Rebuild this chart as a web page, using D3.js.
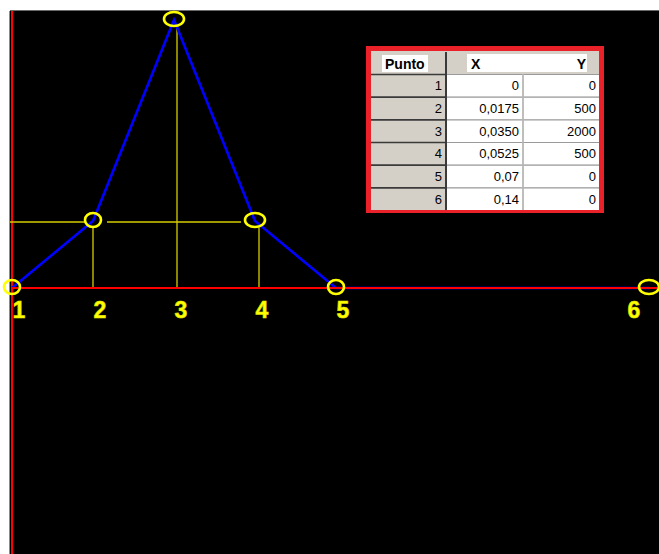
<!DOCTYPE html>
<html>
<head>
<meta charset="utf-8">
<script src="https://cdn.jsdelivr.net/npm/d3@7"></script>
<style>
  html, body { margin: 0; padding: 0; background: #ffffff; }
  svg { display: block; }
</style>
</head>
<body>
<svg id="chart" width="659" height="554"></svg>
<script>
// Puntos de la curva (Punto, X, Y) tal como se escriben en la tabla
const puntos = ["1", "2", "3", "4", "5", "6"];
const xTexto = ["0", "0,0175", "0,0350", "0,0525", "0,07", "0,14"];
const yTexto = ["0", "500", "2000", "500", "0", "0"];
const xDominio = [0, 0.07, 0.14];
const yDominio = [0, 2000];

const xValores = xTexto.map(s => +s.replace(",", "."));
const yValores = yTexto.map(s => +s);
const datos = puntos.map((p, i) => ({ p, x: xValores[i], y: yValores[i], xt: xTexto[i], yt: yTexto[i] }));

const W = 659, H = 554;
const svg = d3.select("#chart");

// Fondo negro del área de dibujo
svg.append("rect").attr("x", 10).attr("y", 11).attr("width", W - 10).attr("height", H - 11).attr("fill", "#000");
svg.append("line").attr("x1", 9.5).attr("x2", 9.5).attr("y1", 11).attr("y2", H).attr("stroke", "#8a8a8a").attr("stroke-width", 1);
svg.append("line").attr("x1", 10).attr("x2", W).attr("y1", 10.5).attr("y2", 10.5).attr("stroke", "#6a6a6a").attr("stroke-width", 1);

const x = d3.scaleLinear().domain(xDominio).range([12, 336, 649]);
const y = d3.scaleLinear().domain(yDominio).range([288, 20]);

// Eje vertical rojo
svg.append("line").attr("x1", 12).attr("x2", 12).attr("y1", 11).attr("y2", H)
  .attr("stroke", "#ff0000").attr("stroke-width", 2);

// Líneas guía amarillas
const guia = "#d6cc00";
const g2 = datos[1], g3 = datos[2], g4 = datos[3];
const guias = [
  [10, y(g2.y) + 1, x(g2.x) - 8, y(g2.y) + 1],
  [x(g2.x) + 14, y(g2.y) + 1, x(g4.x) - 14, y(g4.y) + 1],
  [x(g2.x), y(g2.y) + 7, x(g2.x), y(0)],
  [x(g3.x) + 3, y(g3.y) + 8, x(g3.x) + 3, y(0)],
  [x(g4.x) + 4, y(g4.y) + 7, x(g4.x) + 4, y(0)]
];
svg.append("g").selectAll("line").data(guias).join("line")
  .attr("x1", d => d[0]).attr("y1", d => d[1]).attr("x2", d => d[2]).attr("y2", d => d[3])
  .attr("stroke", guia).attr("stroke-width", 1.3);

// Curva azul
const linea = d3.line().x(d => x(d.x)).y(d => y(d.y));
svg.append("path").datum(datos).attr("d", linea)
  .attr("fill", "none").attr("stroke", "#0000ff").attr("stroke-width", 2.6).attr("stroke-linejoin", "miter");

// Eje horizontal rojo
svg.append("line").attr("x1", 11).attr("x2", W).attr("y1", y(0)).attr("y2", y(0))
  .attr("stroke", "#ff0000").attr("stroke-width", 2.2);

// Marcas de los puntos
svg.append("g").selectAll("ellipse").data(datos).join("ellipse")
  .attr("cx", d => x(d.x)).attr("cy", d => y(d.y) - 1)
  .attr("rx", (d, i) => (i === 2 || i === 3 || i === 5) ? 10 : 8)
  .attr("ry", 7)
  .attr("fill", "none").attr("stroke", "#ffff00").attr("stroke-width", 2.6);

// Números de los puntos
svg.append("g").selectAll("text").data(datos).join("text")
  .attr("x", d => Math.min(x(d.x) + 7, W - 25))
  .attr("y", 318)
  .attr("text-anchor", "middle")
  .attr("font-family", "Liberation Sans, Arial, sans-serif")
  .attr("font-weight", "bold").attr("font-size", 23)
  .attr("fill", "#ffff00")
  .attr("stroke", "#e0e000").attr("stroke-width", 0.6)
  .text(d => d.p);

// Tabla de puntos
const tabla = svg.append("g");
const tx = 366, ty = 46, tw = 238, th = 167;
tabla.append("rect").attr("x", tx).attr("y", ty).attr("width", tw).attr("height", th).attr("fill", "#ea2128");
tabla.append("rect").attr("x", 371).attr("y", 51).attr("width", 228).attr("height", 159).attr("fill", "#d4d0c8");

const gris = "#d4d0c8";
const fuente = "Liberation Sans, Arial, sans-serif";
// Encabezado
tabla.append("rect").attr("x", 382).attr("y", 55).attr("width", 46).attr("height", 17).attr("fill", "#fff");
tabla.append("rect").attr("x", 467).attr("y", 54).attr("width", 120).attr("height", 18).attr("fill", "#fff");
tabla.append("text").attr("x", 385).attr("y", 69).attr("font-family", fuente).attr("font-weight", "bold")
  .attr("font-size", 14).attr("fill", "#000").text("Punto");
tabla.append("text").attr("x", 471).attr("y", 69).attr("font-family", fuente).attr("font-weight", "bold")
  .attr("font-size", 14).attr("fill", "#000").text("X");
tabla.append("text").attr("x", 586).attr("y", 69).attr("text-anchor", "end").attr("font-family", fuente).attr("font-weight", "bold")
  .attr("font-size", 14).attr("fill", "#000").text("Y");

const fila = d3.scaleBand().domain(puntos).range([74, 210]).padding(0);
const filas = tabla.append("g").selectAll("g").data(datos).join("g")
  .attr("transform", d => `translate(0,${fila(d.p)})`);
const fh = fila.bandwidth();
filas.append("rect").attr("x", 371).attr("y", 0).attr("width", 74).attr("height", fh).attr("fill", gris);
filas.append("rect").attr("x", 447).attr("y", 0).attr("width", 75).attr("height", fh).attr("fill", "#fff");
filas.append("rect").attr("x", 524).attr("y", 0).attr("width", 75).attr("height", fh).attr("fill", "#fff");
filas.append("line").attr("x1", 371).attr("x2", 446).attr("y1", 0.5).attr("y2", 0.5).attr("stroke", "#3a3a3a").attr("stroke-width", 1.6);
filas.append("line").attr("x1", 446).attr("x2", 599).attr("y1", 0.5).attr("y2", 0.5).attr("stroke", "#9a9a9a").attr("stroke-width", 1.2);
filas.append("text").attr("x", 442).attr("y", fh / 2 + 5).attr("text-anchor", "end")
  .attr("font-family", fuente).attr("font-size", 13).attr("fill", "#000").text(d => d.p);
filas.append("text").attr("x", 519).attr("y", fh / 2 + 5).attr("text-anchor", "end")
  .attr("font-family", fuente).attr("font-size", 13).attr("fill", "#000").text(d => d.xt);
filas.append("text").attr("x", 596).attr("y", fh / 2 + 5).attr("text-anchor", "end")
  .attr("font-family", fuente).attr("font-size", 13).attr("fill", "#000").text(d => d.yt);

// Separadores de columnas
tabla.append("line").attr("x1", 446).attr("x2", 446).attr("y1", 52).attr("y2", 210).attr("stroke", "#3a3a3a").attr("stroke-width", 2);
tabla.append("line").attr("x1", 523).attr("x2", 523).attr("y1", 74).attr("y2", 210).attr("stroke", "#b8b8b8").attr("stroke-width", 1.5);
</script>
</body>
</html>
